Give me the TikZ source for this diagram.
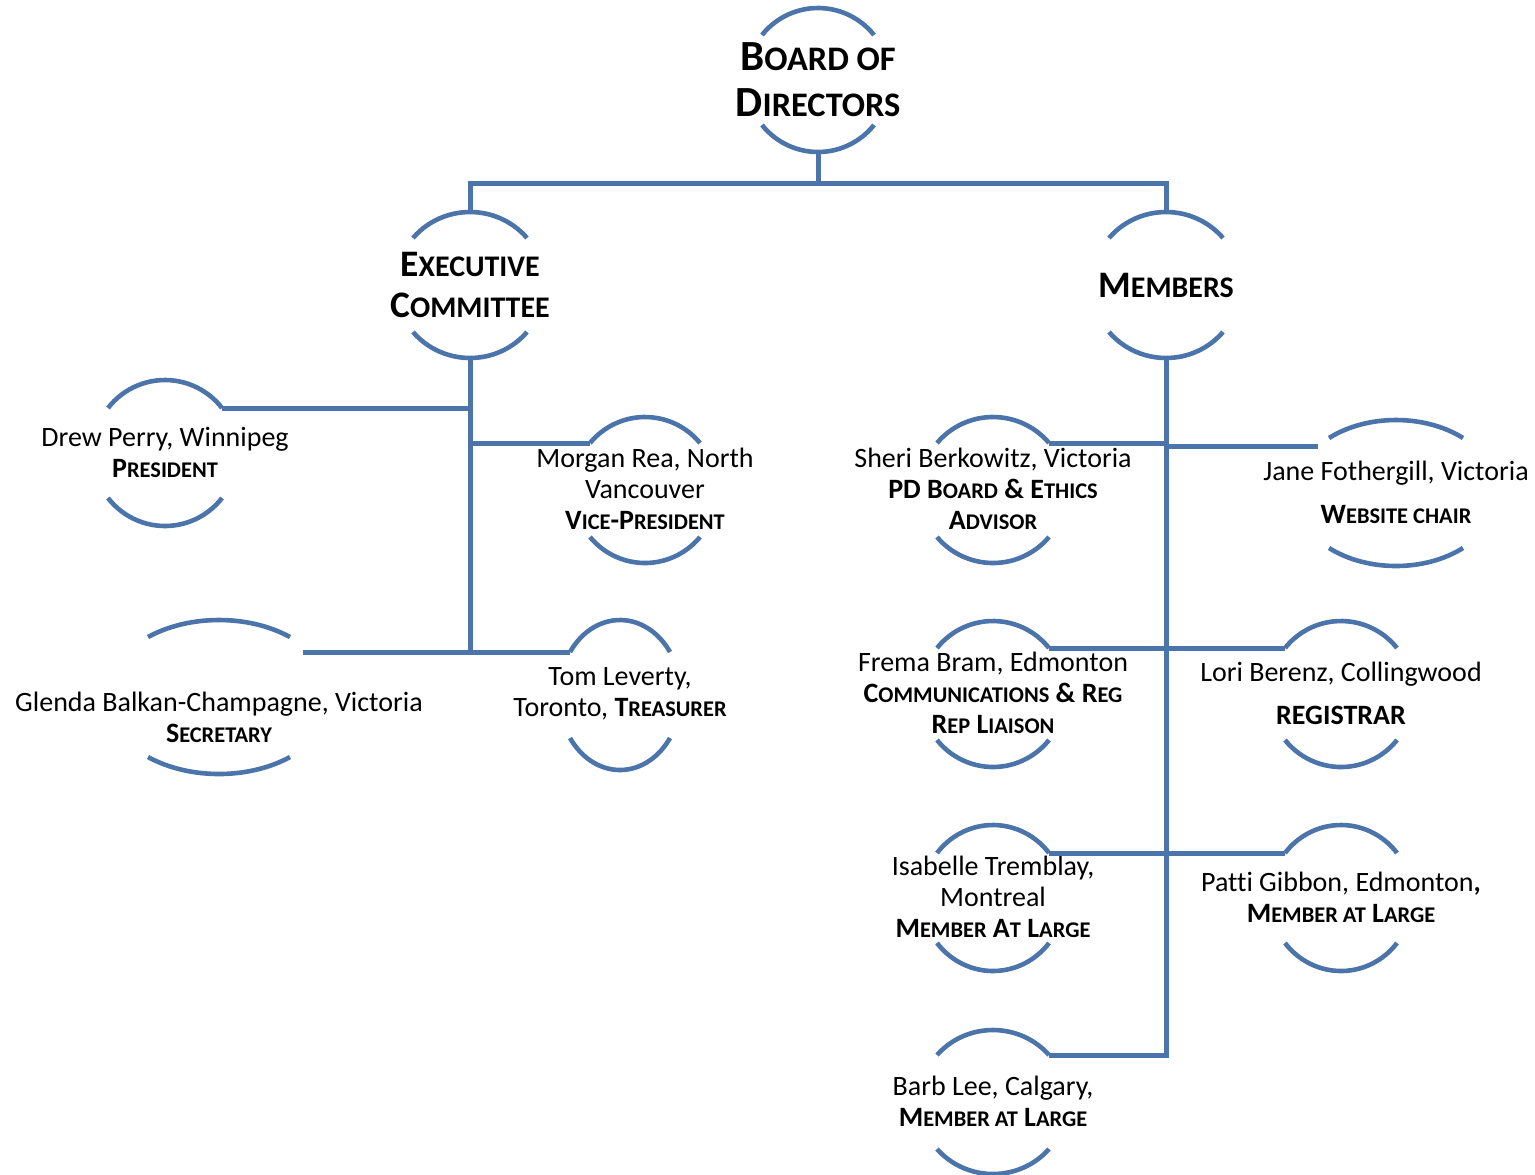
\documentclass[tikz,border=0pt]{standalone}
\usepackage{fontspec}
\setmainfont{Carlito}[Ligatures=NoCommon]
\usepackage{graphicx}
\definecolor{orgblue}{RGB}{74,116,170}
\newcommand{\scap}[1]{\scalebox{0.8}{\MakeUppercase{#1}}}
\newcommand{\orgring}[6]{%
  \pgfmathsetmacro{\ringt}{asin(#5/#6)}%
  \pgfmathsetmacro{\ringa}{#4/cos(\ringt)}%
  \coordinate (#1-tl) at (#2-#4,#3-#5);
  \coordinate (#1-tr) at (#2+#4,#3-#5);
  \coordinate (#1-bl) at (#2-#4,#3+#5);
  \coordinate (#1-t) at (#2,#3-#6);
  \coordinate (#1-b) at (#2,#3+#6);
  \draw[arcline] (#1-tl) arc[start angle=180+\ringt, end angle=360-\ringt, x radius=\ringa, y radius=#6];
  \draw[arcline] (#1-bl) arc[start angle=180-\ringt, end angle=\ringt, x radius=\ringa, y radius=#6];
}
\tikzset{
  arcline/.style={draw=orgblue, line width=2.3pt},
  link/.style={draw=orgblue, line width=2.5pt},
  title/.style={align=center, font=\fontsize{21.5}{23}\selectfont\bfseries, inner sep=0pt},
  subtitle/.style={align=center, font=\fontsize{18.7}{20.5}\selectfont\bfseries, inner sep=0pt},
  person/.style={align=center, font=\fontsize{14}{15.5}\selectfont, inner sep=0pt}
}
\begin{document}
\begin{tikzpicture}[x=0.5pt, y=-0.5pt]
  \useasboundingbox (0,0) rectangle (1535,1174);
  \orgring{board}{818}{80}{56}{45}{72}
  \orgring{exec}{470}{285}{57}{47}{73}
  \orgring{members}{1166}{285}{57}{47}{73}
  \orgring{drew}{165}{453}{57}{45}{73}
  \orgring{morgan}{645}{490}{55}{47}{73}
  \orgring{glenda}{219}{697}{71}{60}{77}
  \orgring{tom}{620}{695}{50}{43}{75}
  \orgring{sheri}{993}{490}{56}{47}{73}
  \orgring{jane}{1396}{493}{67}{55}{73}
  \orgring{frema}{993}{694}{56}{46}{73}
  \orgring{lori}{1341}{694}{56}{46}{73}
  \orgring{isabelle}{993}{898}{56}{45}{73}
  \orgring{patti}{1341}{898}{56}{45}{73}
  \orgring{barb}{993}{1102}{56}{47}{72}
  \coordinate (bus) at (818,183);
  \coordinate (glenda-in) at (303,652);
  \coordinate (jane-in) at (1318,446);
  \node[title] (board) at (818,80) {B\scap{oard of}\\D\scap{irectors}};
  \node[subtitle] (exec) at (470,285) {E\scap{xecutive}\\C\scap{ommittee}};
  \node[subtitle] (members) at (1166,285) {M\scap{embers}};
  \node[person] (drew) at (165,452) {Drew Perry, Winnipeg\\\textbf{P\scap{resident}}};
  \node[person] (morgan) at (645,489) {Morgan Rea, North\\Vancouver\\\textbf{V\scap{ice}-P\scap{resident}}};
  \node[person] (glenda) at (219,717) {Glenda Balkan-Champagne, Victoria\\\textbf{S\scap{ecretary}}};
  \node[person] (tom) at (620,694) {Tom Leverty,\\Toronto, \textbf{T\scap{reasurer}}};
  \node[person] (sheri) at (993,489) {Sheri Berkowitz, Victoria\\\textbf{PD B\scap{oard} \& E\scap{thics}}\\\textbf{A\scap{dvisor}}};
  \node[person] (jane) at (1396,492) {Jane Fothergill, Victoria\\[6pt]\textbf{W\scap{ebsite chair}}};
  \node[person] (frema) at (993,693) {Frema Bram, Edmonton\\\textbf{C\scap{ommunications} \& R\scap{eg}}\\\textbf{R\scap{ep} L\scap{iaison}}};
  \node[person] (lori) at (1341,693) {Lori Berenz, Collingwood\\[6pt]\textbf{REGISTRAR}};
  \node[person] (isabelle) at (993,897) {Isabelle Tremblay,\\Montreal\\\textbf{M\scap{ember} A\scap{t} L\scap{arge}}};
  \node[person] (patti) at (1341,897) {Patti Gibbon, Edmonton\textbf{,}\\\textbf{M\scap{ember at} L\scap{arge}}};
  \node[person] (barb) at (993,1101) {Barb Lee, Calgary,\\\textbf{M\scap{ember at} L\scap{arge}}};
  \begin{scope}[link]
    \draw (board-b) -- (bus);
    \draw (exec-t) |- (bus) -| (members-t);
    \draw (exec-b) -- (exec-b |- tom-tl);
    \draw (drew-tr) -- (drew-tr -| exec-b);
    \draw (exec-b |- morgan-tl) -- (morgan-tl);
    \draw (glenda-in) -- (tom-tl);
    \draw (members-b) |- (barb-tr);
    \draw (sheri-tr) -- (sheri-tr -| members-b);
    \draw (members-b |- jane-in) -- (jane-in);
    \draw (frema-tr) -- (lori-tl);
    \draw (isabelle-tr) -- (patti-tl);
  \end{scope}
\end{tikzpicture}
\end{document}
